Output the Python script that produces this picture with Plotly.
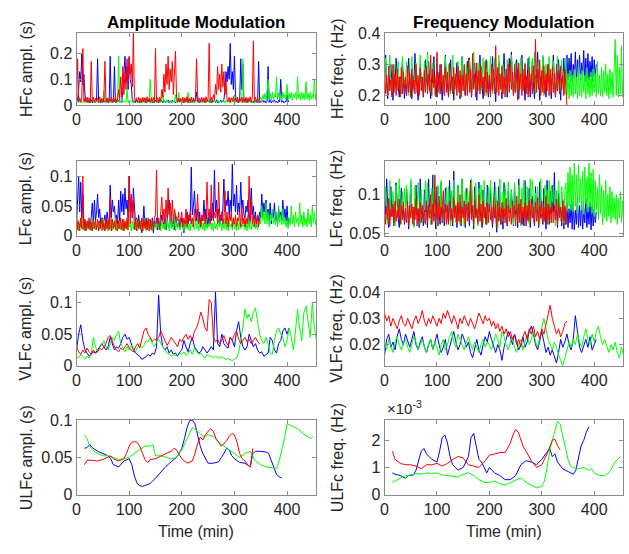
import numpy as np
import plotly.graph_objects as go

W, H = 629, 554
BLUE, RED, GREEN = "#0000ff", "#ff0000", "#00ff00"
STEP_FAST = 2   # minutes between samples, HFc / LFc panels
STEP_VLF = 4    # minutes between samples, VLFc panels

# ---------------- HFc amplitude (ms) ----------------
hf_amp_blue = [10,18,60,130,90,200,80,120,40,12,18,8,16,10,20,8,14,18,10,16,
               180,10,16,8,18,12,20,10,14,18,8,16,190,10,18,12,150,8,16,12,
               18,10,14,8,60,120,190,90,150,60,185,100,80,20,10,16,8,18,12,14,
               8,16,12,18,10,14,8,20,12,16,10,18,8,14,12,18,10,16,8,20,
               12,16,8,18,10,14,12,20,8,16,10,18,12,14,8,16,10,20,12,18,
               10,16,8,18,12,14,10,20,8,16,12,18,10,16,50,12,18,8,16,10,
               14,18,8,16,12,20,10,14,8,18,12,16,10,20,8,14,12,18,10,16,
               20,60,130,90,150,100,240,80,130,60,190,40,12,18,8,16,180,60,160,14,
               10,18,8,16,12,20,10,14,8,18,12,16,10,170,8,14,12,18,10,16,
               8,14,150,10,18,8,16,12,20,10,14,8,18,12,100,10,16,8,14,12,
               40,12,16]
hf_amp_red = [20,180,12,28,10,30,220,14,26,10,30,12,28,8,170,12,30,10,26,14,
              28,10,32,12,26,8,30,170,12,28,10,26,14,30,8,28,12,32,10,26,
              60,20,110,30,150,40,130,60,180,90,190,120,160,70,280,30,12,28,10,30,
              12,26,8,30,14,28,10,32,12,26,10,28,14,30,8,220,12,28,10,30,
              14,60,30,120,50,160,80,190,60,140,90,170,40,150,210,30,12,28,10,26,
              14,30,10,28,12,32,8,26,14,30,10,28,12,28,180,40,10,26,12,30,
              12,28,10,32,14,26,240,12,30,10,40,20,80,40,150,60,120,50,160,70,
              130,40,90,20,12,30,10,28,14,32,8,26,12,30,10,28,14,30,10,26,
              12,30,10,28,14,32,10,28,250,12,30,10,26,14,28]
hf_amp_green = [10,16,8,18,12,14,8,20,10,16,12,18,8,14,10,16,12,20,8,14,
                12,18,8,16,10,20,55,12,16,8,18,10,14,12,20,8,16,10,18,12,
                190,10,16,8,18,12,14,10,60,8,18,12,16,10,20,8,14,12,18,10,
                16,8,18,12,14,10,20,8,16,12,100,10,18,8,14,12,20,10,16,8,
                18,12,60,10,16,8,20,12,14,10,18,8,16,12,40,10,18,50,12,16,
                8,18,12,14,10,20,50,12,16,8,18,10,14,12,20,8,16,10,18,12,
                14,10,18,8,16,12,20,10,14,8,18,12,16,10,20,8,14,12,18,10,
                16,8,18,12,14,10,20,8,16,12,40,10,18,8,14,12,20,8,180,12,
                16,10,18,8,14,12,20,10,16,8,18,12,14,10,20,30,18,40,22,45,
                20,48,100,25,45,18,50,22,42,30,110,20,48,25,44,18,50,28,40,22,
                80,20,45,25,50,18,42,28,48,20,110,25,44,18,50,22,46,20,90,24,
                45,18,50,22,40,26,100,20,48,24,40]

# ---------------- HFc frequency (mHz) ----------------
hf_freq_blue = [250,330,240,190,260,235,300,245,185,255,240,320,250,230,195,260,240,310,245,190,
                245,200,260,320,235,250,190,265,240,335,250,230,185,255,300,240,260,195,245,315,
                255,230,310,245,190,260,240,325,235,250,195,265,240,300,250,185,245,260,330,240,
                240,195,255,315,245,260,185,250,235,305,260,240,190,255,325,245,230,200,260,310,
                250,320,240,195,265,235,305,250,185,260,245,330,240,230,190,255,245,315,250,195,
                260,205,245,325,240,255,180,260,245,310,250,235,190,265,335,240,255,195,250,320,
                245,340,255,200,240,260,315,235,190,250,265,330,240,245,185,260,250,320,240,195,
                255,310,240,190,265,250,340,245,185,260,240,325,250,235,195,255,300,245,260,190,
                245,330,255,195,240,260,315,250,185,255,245,320,240,260,330,250,320,260,335,245,
                300,255,340,245,315,260,330,250,305,265,345,245,320,255,335,250,310,260,325,245,
                315,260,300]
hf_freq_red = [280,205,265,200,295,215,250,195,300,210,270,200,285,220,260,195,290,205,275,215,
               260,200,295,210,270,195,285,220,250,205,300,210,265,200,290,215,255,195,280,210,
               295,205,270,215,330,200,285,225,260,195,340,210,275,205,300,220,265,200,290,210,
               275,195,305,215,260,205,290,220,270,200,295,210,280,195,265,215,300,205,270,200,
               320,210,285,200,335,220,270,195,305,215,280,205,295,225,260,200,310,210,275,205,
               265,195,300,215,285,205,360,210,290,200,270,220,295,205,260,195,285,215,300,210,
               315,220,275,200,300,210,290,185,305,220,270,200,285,215,300,205,265,195,290,210,
               270,205,295,215,380,210,285,220,315,200,280,210,295,205,270,215,300,200,285,210,
               290,210,270,200,300,215,280,205,295,220,265,200,285,210,165]
hf_freq_green = [250,320,240,205,255,330,245,210,260,300,235,250,215,310,245,255,205,325,240,250,
                 235,310,250,200,260,245,325,240,210,255,305,245,250,215,330,240,255,205,310,245,
                 255,340,240,210,250,260,305,245,200,255,320,240,250,215,300,260,245,205,325,240,
                 245,300,255,205,240,330,250,215,260,245,310,240,200,255,325,245,250,210,300,255,
                 240,315,250,205,255,340,245,210,260,240,305,250,215,245,320,255,240,200,310,245,
                 255,325,240,205,250,320,245,215,260,330,240,250,210,300,245,255,205,315,240,250,
                 245,330,255,210,240,310,250,200,260,245,320,240,215,255,305,245,250,205,325,240,
                 250,320,245,340,205,255,240,315,250,210,245,330,200,255,300,240,250,325,215,245,
                 240,310,255,205,250,325,245,210,260,315,240,250,205,320,200,270,190,280,200,265,
                 195,285,205,260,190,300,200,270,195,280,210,265,190,290,205,260,195,275,200,285,
                 210,270,195,310,205,265,200,290,195,280,210,300,200,270,190,285,205,275,195,320,
                 380,200,330,195,290,205,360,195,280,210,300]

# ---------------- LFc amplitude (ms) ----------------
lf_amp_blue = [20,60,100,40,90,30,70,15,25,10,20,15,25,10,30,55,20,60,25,40,
               70,30,45,20,30,15,25,35,15,40,25,20,85,30,60,40,50,25,35,20,
               60,25,75,40,70,35,80,45,60,30,100,40,65,30,80,35,20,30,15,35,
               15,25,5,20,50,15,30,10,25,15,20,10,30,5,25,15,30,10,25,15,
               20,35,25,15,30,10,25,40,60,20,30,15,25,10,35,20,15,25,10,20,
               30,15,5,25,15,40,20,35,25,115,35,50,75,40,25,45,20,40,15,30,
               25,60,30,45,15,30,20,40,25,55,30,110,40,60,30,45,20,35,25,45,
               95,40,60,50,75,35,60,40,120,50,70,40,85,35,55,40,90,45,60,35,
               30,50,40,60,20,45,80,35,50,25,40,15,35,25,40,30,70,35,55,40,
               60,30,45,25,55,20,40,30,55,25,35,20,45,30,40,25,60,30,45,25,
               50,20,30]
lf_amp_red = [35,10,25,8,30,12,100,10,28,8,25,12,30,10,22,8,28,12,25,10,
              28,8,25,12,30,10,22,8,30,12,26,10,65,8,28,12,25,10,30,8,
              25,12,30,10,28,8,25,12,30,10,100,20,70,30,60,10,25,8,28,12,
              25,10,30,8,28,12,25,10,30,8,28,12,26,10,30,35,110,20,30,10,
              40,65,25,45,20,60,30,80,35,55,25,60,20,45,35,30,25,40,15,30,
              40,15,30,20,45,15,35,25,40,20,30,15,45,25,35,70,20,30,15,35,
              25,40,20,35,90,30,45,20,85,35,25,40,30,45,20,90,35,25,40,20,
              30,75,20,40,15,35,25,40,15,30,20,35,15,30,25,40,15,50,20,30,
              15,30,20,35,100,25,60,20,35,15,30,20,35,15,30]
lf_amp_green = [10,25,8,20,15,30,10,22,8,18,12,25,10,20,8,28,12,22,10,18,
                15,25,10,22,8,30,12,20,10,25,8,18,12,28,10,22,15,30,8,20,
                12,25,10,20,8,28,12,22,10,30,15,20,8,25,12,22,10,28,8,18,
                12,25,10,22,15,30,8,20,12,28,10,22,8,25,15,20,10,30,12,22,
                8,25,12,20,10,28,15,22,8,30,12,25,10,40,8,22,12,28,10,20,
                15,25,8,22,12,30,10,20,8,28,15,22,10,25,12,30,8,20,12,25,
                10,22,8,28,12,20,15,30,10,22,8,25,12,20,10,28,15,22,8,25,
                12,30,10,22,8,25,15,20,10,28,12,22,8,30,10,25,12,20,15,28,
                10,22,8,25,12,30,10,20,15,28,12,22,10,25,30,20,50,25,40,20,
                55,20,40,15,35,25,45,20,30,18,40,15,50,22,35,18,45,20,30,15,
                25,12,30,18,50,20,35,15,40,22,30,15,55,20,35,15,40,18,30,15,
                45,20,35,15,50,22,40,18,30,15,25]

# ---------------- LFc frequency (mHz) ----------------
lf_freq_blue = [100,75,120,80,58,78,110,72,85,60,76,115,80,70,58,82,108,75,80,62,
                78,110,72,56,80,115,76,84,60,78,112,74,82,58,120,76,80,60,106,78,
                82,58,120,76,80,62,125,78,72,56,110,80,76,62,115,74,82,60,108,78,
                76,64,118,80,72,60,130,78,82,58,112,76,80,60,120,74,78,58,108,80,
                78,60,118,76,82,56,110,74,80,62,116,78,72,58,106,80,76,62,112,78,
                80,108,74,58,82,116,76,52,80,110,74,62,82,56,115,78,72,60,104,80,
                76,106,80,60,112,74,82,58,120,76,80,62,78,60,118,74,80,66,108,58,
                80,98,74,60,110,78,82,58,116,76,72,62,108,78,56,118,80,62,104,76,
                112,78,128,74,80,58,102,76,82,60,94,56,84,62,90,58,82,64,88,56,
                92,55,80,62,96,58,86,60,92,56,82,64,95,58,84,62,90,55,86,60,
                82,64,78]
lf_freq_red = [90,62,85,68,95,60,82,72,88,64,92,66,80,70,94,62,86,68,90,64,
               82,64,92,60,86,70,88,62,84,68,95,60,82,66,90,64,86,70,80,62,
               92,64,86,70,100,62,88,66,125,68,90,60,98,72,84,64,105,66,88,62,
               86,62,92,68,82,64,96,70,86,62,90,66,100,64,84,70,92,62,88,66,
               90,66,115,68,86,62,94,70,82,64,100,66,88,60,92,70,84,62,90,64,
               88,68,84,62,96,70,86,58,92,66,84,62,90,70,82,64,95,62,86,66,
               82,62,92,70,86,60,98,66,88,64,94,62,84,70,90,60,86,68,92,64,
               94,70,84,62,90,66,96,60,86,70,92,64,84,66,98,62,88,68,84,64,
               90,64,86,68,94,62,88,70,84,64,92,66,86,62,80]
lf_freq_green = [75,110,80,62,78,118,82,72,104,76,60,112,80,76,120,78,62,104,80,108,
                 78,112,80,60,82,120,76,84,58,110,80,76,115,82,62,106,78,80,64,118,
                 80,115,76,84,62,108,80,122,78,74,60,112,82,76,118,80,64,84,78,110,
                 76,110,82,60,105,78,118,80,64,84,112,76,62,80,120,78,60,104,82,108,
                 80,104,76,120,78,62,82,115,80,60,108,76,112,82,64,118,78,84,62,110,
                 78,118,82,64,102,76,110,80,58,84,120,78,66,104,80,112,76,62,116,80,
                 82,105,76,62,115,80,84,66,112,78,60,108,82,118,76,64,110,80,62,120,
                 78,118,82,65,102,76,110,80,62,120,78,84,64,112,80,106,62,118,78,110,
                 80,112,76,60,105,82,118,78,66,110,80,64,106,115,78,128,85,135,80,125,
                 78,140,85,125,76,138,90,120,80,130,75,135,88,122,78,140,84,128,76,132,
                 72,118,80,110,68,125,75,112,62,105,70,118,66,100,72,110,64,104,70,96,
                 68,100,62,95,70,104,64,92,66,98,72]

# ---------------- VLFc amplitude (ms) ----------------
vlf_amp_blue = [25,50,65,40,25,20,15,18,22,20,
                25,30,35,30,25,30,45,35,25,30,
                28,35,45,50,42,45,35,25,20,18,
                15,10,12,14,18,15,20,18,30,112,
                50,30,25,30,20,25,18,20,15,22,
                25,40,30,22,35,45,30,25,20,22,
                30,25,20,25,30,25,117,35,30,50,
                35,30,28,45,40,30,55,70,45,30,
                25,30,50,40,30,35,25,20,22,15,
                18,20,45,40,25,20,35,40,55,60,
                50,60]
vlf_amp_red = [30,22,18,25,20,28,22,18,25,20,
               22,28,25,30,35,45,48,40,30,25,
               22,28,25,30,35,28,25,22,30,35,
               28,40,55,60,50,45,38,42,40,45,
               55,48,40,32,38,45,40,35,30,42,
               38,45,50,42,48,40,55,60,70,85,
               75,60,55,105,100,45,38,42,35,40,
               48,38,32,45,40,50,55,42,35,40,
               45,38,42,35,40,45,38,35]
vlf_amp_green = [15,12,18,14,10,15,12,18,45,30,
                 22,28,35,40,30,25,35,45,40,50,
                 55,35,28,22,30,25,32,28,22,30,
                 35,28,32,40,38,45,35,30,38,42,
                 35,30,25,20,18,15,18,16,15,20,
                 18,22,16,20,25,18,28,22,18,20,
                 15,12,18,14,16,12,15,13,12,14,
                 12,10,11,9,8,10,12,20,40,60,
                 90,75,82,70,85,92,70,50,40,35,
                 45,35,20,18,40,55,60,50,45,30,
                 40,60,45,25,55,90,60,40,85,95,
                 70,45,100,60,40,55]

# ---------------- VLFc frequency (mHz) ----------------
vlf_freq_blue = [16,22,24,19,21,18,23,26,22,20,
                 24,21,19,22,25,20,18,21,23,19,
                 17,20,22,18,21,24,20,17,19,22,
                 16,19,23,25,21,18,20,24,22,19,
                 21,17,15,19,22,18,16,20,23,21,
                 25,22,19,17,20,18,14,19,22,25,
                 23,20,24,21,18,20,23,19,21,25,
                 27,24,20,18,22,25,21,17,19,16,
                 18,15,13,17,22,19,21,24,20,18,
                 22,31,24,19,17,20,22,19,23,18,
                 20,22]
vlf_freq_red = [32,29,31,27,30,28,26,29,31,28,
                27,30,28,26,29,31,28,30,33,29,
                27,30,28,31,29,27,30,28,32,30,
                33,30,28,31,29,26,30,28,31,29,
                27,30,28,26,29,32,30,28,31,29,
                30,27,29,26,28,25,27,24,26,23,
                25,22,24,20,22,19,23,25,22,26,
                24,27,23,25,22,26,24,28,32,35,
                30,27,24,26,23,25,28,29]
vlf_freq_green = [20,18,22,19,17,21,23,20,18,21,
                  22,19,17,20,23,21,18,20,22,19,
                  17,20,22,18,21,19,16,20,22,18,
                  20,23,25,21,19,24,22,20,18,21,
                  23,20,18,21,19,17,20,22,19,21,
                  20,18,21,24,22,19,25,23,20,18,
                  21,23,19,17,20,22,18,21,24,20,
                  22,25,21,19,23,27,30,26,22,20,
                  18,21,19,16,14,12,15,18,21,19,
                  22,20,24,21,19,23,26,22,20,24,
                  21,25,27,23,20,22,19,17,20,18,
                  21,17,15,19,16,14]

# ---------------- ULFc amplitude (ms) ----------------
ulf_amp_t_blue = [15,20,25,30,40,50,60,65,70,80,90,100,105,110,115,120,125,130,140,150,
                  160,170,180,190,195,200,205,210,215,220,225,230,235,240,250,260,270,280,285,290,
                  295,300,305,310,320,325,330,335,340,350,360,365,370,375,380,385,390]
ulf_amp_blue = [62,63,67,63,58,55,52,48,40,37,45,48,40,25,15,12,11,12,15,22,
                30,38,44,50,55,62,75,90,99,100,95,80,65,55,42,42,44,55,62,60,
                52,48,45,43,42,40,37,55,58,58,57,55,45,35,27,24,22]
ulf_amp_t_red = [15,20,30,40,50,60,65,70,80,90,95,100,105,110,115,120,125,130,135,140,
                 150,160,170,180,185,190,200,210,220,225,230,235,240,245,250,255,260,265,270,275,
                 280,285,290,295,300,305,310,315,320,325,330,335]
ulf_amp_red = [40,46,46,45,47,50,52,48,45,48,55,65,70,71,70,65,55,47,43,47,
               48,52,55,58,62,60,48,42,45,55,68,77,73,80,85,88,85,75,70,65,
               68,72,78,82,80,70,55,48,45,40,37,62]
ulf_amp_t_green = [15,20,25,30,40,50,60,70,80,90,100,110,120,130,140,145,150,160,170,180,
                   190,200,210,220,230,240,250,260,270,280,290,300,310,320,330,340,350,360,370,380,
                   385,390,395,400,410,420,430,440,445,450]
ulf_amp_green = [80,75,65,60,55,52,52,50,47,48,50,55,60,65,65,67,52,52,50,48,
                 50,60,75,90,85,78,80,78,70,65,60,55,50,55,58,45,40,37,36,35,
                 45,60,75,95,92,88,82,78,75,78]

# ---------------- ULFc frequency (x 1e-3 Hz) ----------------
ulf_freq_t_blue = [15,20,30,40,45,55,60,65,70,75,80,90,100,105,110,115,120,125,130,140,
                   150,160,165,170,175,180,185,190,195,200,205,210,220,230,240,250,260,270,280,290,
                   300,310,315,320,325,330,340,350,360,365,370,375,380,385,390]
ulf_freq_blue = [0.8,0.75,0.7,0.6,0.7,0.72,0.9,1.3,1.6,1.7,1.5,1.3,1.2,1.6,2.1,2.2,1.9,1.4,1.1,0.9,
                 1.0,1.4,2.1,2.25,1.8,1.3,1.2,1.0,0.8,1.0,0.9,0.8,0.7,0.55,0.55,0.7,1.1,1.25,1.2,1.1,
                 1.3,1.6,1.7,1.4,1.5,1.2,0.95,0.85,0.75,0.9,1.3,1.8,2.0,2.3,2.5]
ulf_freq_t_red = [15,20,30,40,50,60,70,80,90,100,110,120,130,140,150,160,170,180,190,200,
                  210,220,230,240,245,250,255,260,265,270,280,290,300,310,320,325,330,335]
ulf_freq_red = [1.6,1.3,1.15,1.1,1.1,1.05,0.95,1.1,1.1,1.15,1.05,1.15,1.3,1.4,1.35,1.1,1.05,1.0,1.2,1.45,
                1.5,1.55,1.55,1.9,2.2,2.4,2.3,2.0,1.75,1.6,1.25,1.0,1.1,1.5,2.0,2.05,1.8,1.65]
ulf_freq_t_green = [15,20,30,40,50,60,70,80,90,100,110,120,130,140,150,160,170,180,190,200,
                    210,220,230,240,250,260,270,280,290,300,305,310,315,320,325,330,335,340,345,350,
                    355,360,370,380,390,395,400,410,420,430,440,450]
ulf_freq_green = [0.45,0.5,0.6,0.7,0.72,0.78,0.75,0.8,0.78,0.8,0.72,0.7,0.68,0.65,0.75,0.8,0.7,0.55,0.45,0.45,
                  0.5,0.4,0.35,0.45,0.55,0.62,0.45,0.35,0.25,0.3,0.5,1.0,1.6,2.0,2.4,2.7,2.6,2.2,1.8,1.3,
                  1.05,1.0,0.95,1.0,0.9,0.95,0.8,0.7,0.7,0.85,1.2,1.4]

# ---------------- axis texts ----------------
col_titles = ["Amplitude Modulation", "Frequency Modulation"]
y_labels = [["HFc ampl. (s)", "HFc freq. (Hz)"],
            ["LFc ampl. (s)", "LFc freq. (Hz)"],
            ["VLFc ampl. (s)", "VLFc freq. (Hz)"],
            ["ULFc ampl. (s)", "ULFc freq. (Hz)"]]
x_label = "Time (min)"
x_ticks = [0, 100, 200, 300, 400]


def even(vals, step, scale):
    v = np.asarray(vals, dtype=float) * scale
    return np.arange(len(v)) * step, v


def pair(t, vals, scale):
    return np.asarray(t, dtype=float), np.asarray(vals, dtype=float) * scale


def trio(b, g, r, step, scale):
    return [even(b, step, scale) + (BLUE,), even(g, step, scale) + (GREEN,), even(r, step, scale) + (RED,)]


panels = [
    # (row, col, [(x, y, color)], yrange, tickvals, ticktext, line width)
    (0, 0, trio(hf_amp_blue, hf_amp_green, hf_amp_red, STEP_FAST, 1e-3),
     [0, 0.28], [0, 0.1, 0.2], ["0", "0.1", "0.2"], 1),
    (0, 1, trio(hf_freq_blue, hf_freq_green, hf_freq_red, STEP_FAST, 1e-3),
     [0.17, 0.4], [0.2, 0.3, 0.4], ["0.2", "0.3", "0.4"], 1),
    (1, 0, trio(lf_amp_blue, lf_amp_green, lf_amp_red, STEP_FAST, 1e-3),
     [0, 0.125], [0, 0.05, 0.1], ["0", "0.05", "0.1"], 1),
    (1, 1, trio(lf_freq_blue, lf_freq_green, lf_freq_red, STEP_FAST, 1e-3),
     [0.0475, 0.1425], [0.05, 0.1], ["0.05", "0.1"], 1),
    (2, 0, trio(vlf_amp_blue, vlf_amp_green, vlf_amp_red, STEP_VLF, 1e-3),
     [0, 0.117], [0, 0.05, 0.1], ["0", "0.05", "0.1"], 1),
    (2, 1, trio(vlf_freq_blue, vlf_freq_green, vlf_freq_red, STEP_VLF, 1e-3),
     [0.012, 0.04], [0.02, 0.03, 0.04], ["0.02", "0.03", "0.04"], 1),
    (3, 0, [pair(ulf_amp_t_blue, ulf_amp_blue, 1e-3) + (BLUE,), pair(ulf_amp_t_green, ulf_amp_green, 1e-3) + (GREEN,),
            pair(ulf_amp_t_red, ulf_amp_red, 1e-3) + (RED,)],
     [0, 0.1], [0, 0.05, 0.1], ["0", "0.05", "0.1"], 1),
    (3, 1, [pair(ulf_freq_t_blue, ulf_freq_blue, 1) + (BLUE,), pair(ulf_freq_t_green, ulf_freq_green, 1) + (GREEN,),
            pair(ulf_freq_t_red, ulf_freq_red, 1) + (RED,)],
     [0, 2.75], [0, 1, 2], ["0", "1", "2"], 1),
]

# pixel geometry of the axes boxes
col_px = [(73, 314), (383, 623)]
row_px = [(26, 100), (158, 235), (293, 369), (425, 502)]

FONT = "Liberation Sans, Arial, Helvetica, sans-serif"
AX_COL = "#8a8a8a"
TXT_COL = "#262626"

fig = go.Figure()
layout = dict(width=W, height=H, margin=dict(l=0, r=0, t=0, b=0),
              paper_bgcolor="white", plot_bgcolor="white", showlegend=False,
              font=dict(family=FONT, size=16, color=TXT_COL))
annotations = []

for k, (r, c, series, yr, tv, tt, lw) in enumerate(panels):
    sfx = "" if k == 0 else str(k + 1)
    for (x, y, colr) in series:
        fig.add_trace(go.Scatter(x=x, y=y, mode="lines", line=dict(color=colr, width=lw),
                                 xaxis="x" + sfx, yaxis="y" + sfx, hoverinfo="skip"))
    x0, x1 = col_px[c]
    top, bot = row_px[r]
    common = dict(showline=True, linecolor=AX_COL, linewidth=1, mirror="ticks",
                  ticks="inside", ticklen=4, tickcolor=AX_COL, showgrid=False, zeroline=False,
                  tickfont=dict(family=FONT, size=16, color=TXT_COL))
    layout["xaxis" + sfx] = dict(domain=[x0 / W, x1 / W], range=[0, 455], tickvals=x_ticks,
                                 ticktext=[str(v) for v in x_ticks], anchor="y" + sfx, **common)
    layout["yaxis" + sfx] = dict(domain=[1 - bot / H, 1 - top / H], range=yr, tickvals=tv,
                                 ticktext=tt, anchor="x" + sfx, **common)
    lab_x = 22 if c == 0 else 335
    annotations.append(dict(text=y_labels[r][c], x=lab_x / W, y=1 - (top + bot) / 2 / H,
                            xref="paper", yref="paper", textangle=-90, showarrow=False,
                            xanchor="center", yanchor="middle",
                            font=dict(family=FONT, size=16, color=TXT_COL)))

for c in range(2):
    x0, x1 = col_px[c]
    annotations.append(dict(text="<b>" + col_titles[c] + "</b>", x=(x0 + x1) / 2 / W, y=1 - 15 / H,
                            xref="paper", yref="paper", showarrow=False, xanchor="center", yanchor="middle",
                            font=dict(family=FONT, size=17, color="#000000")))
    annotations.append(dict(text=x_label, x=(x0 + x1) / 2 / W, y=1 - 540 / H,
                            xref="paper", yref="paper", showarrow=False, xanchor="center", yanchor="middle",
                            font=dict(family=FONT, size=16, color=TXT_COL)))

annotations.append(dict(text="\u00d710<sup>-3</sup>", x=383 / W, y=1 - 424 / H, xref="paper", yref="paper",
                        showarrow=False, xanchor="left", yanchor="bottom",
                        font=dict(family=FONT, size=15, color=TXT_COL)))

layout["annotations"] = annotations
fig.update_layout(**layout)
fig.write_html("out.html")
